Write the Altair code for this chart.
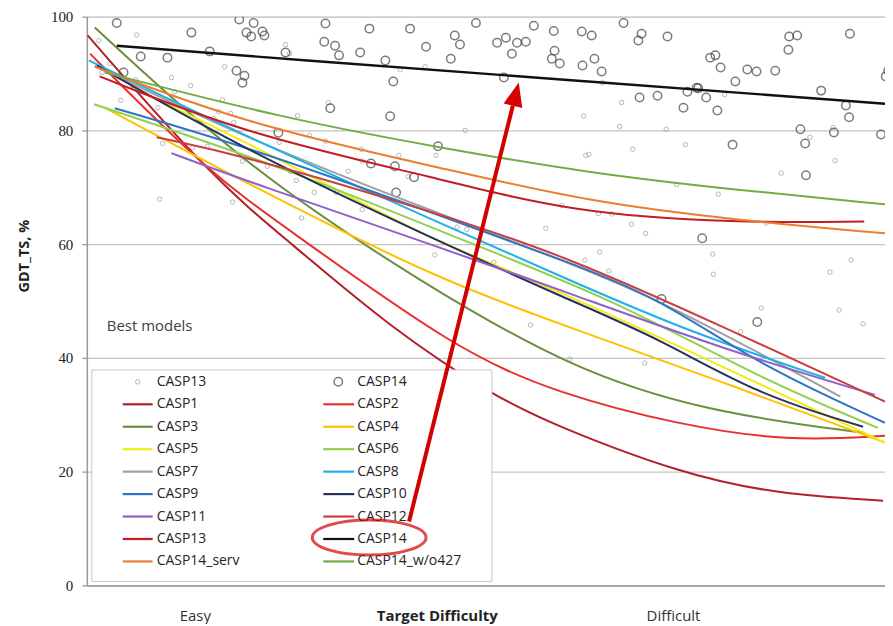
import altair as alt
import pandas as pd

W, H = 800, 570

# ---------------- scatter: best models (difficulty 0..100, GDT_TS %) ----------------
casp14_pts_x = [3.75, 13.1, 19.1, 20.9, 20.0, 20.6, 22.0, 22.25, 6.75, 10.1, 15.4, 24.9, 4.6, 18.75, 19.75,
                19.5, 24.0, 29.9, 35.4, 40.5, 48.75, 56.0, 58.5, 62.0, 29.75, 31.1, 31.6, 34.25, 42.5, 46.1,
                46.75, 45.6, 37.4, 38.4, 51.4, 52.5, 53.9, 55.0, 53.25, 58.6, 58.25, 59.25, 62.1, 52.25, 30.5,
                38.0, 44.0, 35.6, 38.6, 41.0, 38.75, 67.25, 63.25, 69.5, 69.1, 72.75, 63.6, 64.5, 78.1, 78.75,
                79.4, 81.25, 82.75, 83.9, 86.25, 88.0, 89.0, 87.9, 95.6, 100.4, 100.1, 69.25, 71.5, 74.75, 75.25,
                76.4, 76.6, 77.6, 79.0, 92.0, 95.1, 95.5, 89.4, 93.6, 99.5, 80.9, 90.0, 90.1, 77.1, 72.0, 84.0]
casp14_pts_y = [98.9, 97.2, 99.5, 98.9, 97.2, 96.5, 97.4, 96.7, 93.0, 92.8, 93.9, 93.7, 90.2, 90.5, 89.6,
                88.4, 79.6, 98.8, 97.9, 97.9, 98.9, 98.4, 97.5, 97.4, 95.6, 94.9, 93.2, 93.7, 94.7, 96.7,
                95.1, 92.6, 92.3, 88.6, 95.4, 96.3, 95.4, 95.6, 93.5, 94.0, 92.6, 91.75, 91.4, 89.3, 83.9,
                82.5, 77.2, 74.2, 73.7, 71.75, 69.1, 98.9, 96.7, 97.0, 95.8, 96.5, 92.6, 90.35, 92.8, 93.2,
                91.05, 88.6, 90.7, 90.35, 90.5, 96.5, 96.7, 94.2, 97.0, 90.5, 89.5, 85.8, 86.1, 84.0, 86.8,
                87.5, 87.4, 85.8, 83.5, 87.0, 84.4, 82.3, 80.2, 79.65, 79.3, 77.5, 77.7, 72.1, 61.05, 50.35, 46.3]

casp13_pts_x = [1.5, 6.25, 24.9, 17.25, 10.6, 13.0, 6.1, 4.25, 17.0, 16.5, 18.0, 15.9, 18.4, 9.5, 13.25,
                15.1, 24.1, 19.5, 22.6, 25.5, 26.25, 9.1, 18.25, 26.4, 2.9, 8.9, 11.0, 1.9, 25.4, 39.25,
                42.4, 30.25, 27.9, 29.9, 34.4, 34.5, 39.1, 43.75, 32.75, 28.5, 31.25, 40.25, 47.4, 62.25, 62.5,
                59.5, 26.9, 34.5, 46.4, 47.6, 43.6, 51.0, 57.5, 55.6, 60.5, 62.4, 64.1, 65.75, 68.25, 70.0,
                64.25, 78.4, 78.5, 65.4, 85.1, 93.1, 95.75, 84.5, 94.25, 97.25, 81.9, 69.9, 67.0, 66.75, 72.6,
                75.0, 68.4, 79.9, 62.9, 90.6, 93.5, 93.75, 87.0, 79.1, 73.9, 64.6]
casp13_pts_y = [95.8, 96.8, 95.1, 91.2, 89.3, 87.9, 88.9, 85.3, 85.4, 83.3, 83.0, 82.1, 81.4, 77.7, 77.0,
                77.2, 77.9, 74.6, 73.7, 72.8, 71.2, 67.9, 67.4, 82.6, 91.75, 84.0, 86.8, 90.2, 93.5, 90.7,
                91.2, 84.9, 79.1, 78.1, 76.7, 74.6, 75.6, 75.6, 72.8, 69.1, 69.1, 71.9, 80.0, 82.5, 75.6,
                66.8, 64.6, 66.1, 63.0, 62.6, 58.1, 56.8, 62.8, 45.8, 39.8, 57.2, 65.4, 65.3, 63.5, 61.9,
                58.6, 58.25, 54.7, 55.3, 63.7, 55.1, 57.2, 48.8, 48.4, 46.0, 44.6, 39.1, 84.9, 80.7, 80.2,
                77.5, 76.7, 86.3, 75.8, 78.8, 80.5, 74.7, 72.5, 68.8, 70.5, 88.4]

# ---------------- trend curves ----------------
casp1_x = [0.1, 16.0, 25.4, 37.9, 51.25, 59.1, 74.1, 86.6, 99.75]
casp1_y = [96.7, 71.2, 60.4, 45.4, 33.0, 27.9, 19.8, 16.0, 14.9]
casp2_x = [0.4, 15.6, 25.4, 46.25, 59.1, 74.1, 87.9, 100]
casp2_y = [93.5, 72.1, 62.5, 41.4, 33.7, 28.25, 25.3, 26.3]
casp3_x = [1.0, 20.4, 42.0, 60.4, 77.9, 97.5]
casp3_y = [98.1, 73.0, 53.2, 38.2, 30.4, 26.8]
casp4_x = [2.25, 20.4, 44.1, 60.4, 80.0, 100]
casp4_y = [84.0, 70.4, 53.7, 45.4, 35.6, 25.1]
casp5_x = [5.75, 24.75, 41.6, 59.1, 79.1, 100]
casp5_y = [87.5, 74.7, 61.6, 51.9, 38.8, 25.1]
casp6_x = [0.9, 24.75, 45.4, 66.25, 84.1, 99.1]
casp6_y = [84.6, 73.5, 61.6, 50.2, 36.5, 27.7]
casp7_x = [1.0, 20.4, 44.1, 60.4, 71.9, 94.4]
casp7_y = [91.4, 78.25, 65.4, 56.7, 50.2, 33.2]
casp8_x = [0.25, 20.4, 44.1, 60.4, 75.75, 92.5]
casp8_y = [92.3, 78.6, 63.8, 53.7, 44.4, 36.5]
casp9_x = [3.5, 20.4, 44.1, 59.1, 71.6, 84.1, 100]
casp9_y = [83.9, 77.0, 65.1, 57.5, 50.7, 38.8, 28.6]
casp10_x = [1.25, 20.4, 44.1, 60.4, 71.6, 84.1, 97.25]
casp10_y = [91.4, 76.1, 60.5, 50.2, 43.5, 33.5, 27.9]
casp11_x = [10.6, 20.4, 44.1, 60.4, 80.0, 98.75]
casp11_y = [76.0, 70.9, 59.5, 51.4, 41.4, 33.5]
casp12_x = [8.75, 20.4, 44.1, 60.4, 80.0, 100]
casp12_y = [78.8, 75.3, 65.4, 57.7, 45.3, 32.3]
casp13_x = [1.6, 20.4, 44.1, 60.4, 81.6, 97.4]
casp13_y = [89.5, 79.1, 71.6, 65.6, 63.7, 64.0]
casp14_x = [3.75, 25.4, 62.9, 100]
casp14_y = [94.9, 92.5, 88.6, 84.7]
casp14serv_x = [1.0, 20.4, 44.1, 62.9, 81.6, 100]
casp14serv_y = [91.2, 80.9, 73.5, 67.4, 64.2, 61.9]
casp14wo_x = [2.25, 24.75, 44.1, 62.9, 81.6, 100]
casp14wo_y = [90.2, 82.1, 77.0, 72.5, 69.5, 67.0]

series_names = ["CASP1", "CASP2", "CASP3", "CASP4", "CASP5", "CASP6", "CASP7", "CASP8", "CASP9",
                "CASP10", "CASP11", "CASP12", "CASP13", "CASP14", "CASP14_serv", "CASP14_w/o427"]
series_colors = ["#B3202A", "#E8312F", "#6A8F3D", "#FFC000", "#F2EC12", "#92D050", "#A0A0A0", "#1FB1E8",
                 "#2E75C6", "#27315E", "#9060C8", "#C8403F", "#C41E24", "#111111", "#ED7D31", "#70AD47"]

curve_lists = [(casp1_x, casp1_y), (casp2_x, casp2_y), (casp3_x, casp3_y), (casp4_x, casp4_y),
               (casp5_x, casp5_y), (casp6_x, casp6_y), (casp7_x, casp7_y), (casp8_x, casp8_y),
               (casp9_x, casp9_y), (casp10_x, casp10_y), (casp11_x, casp11_y), (casp12_x, casp12_y),
               (casp13_x, casp13_y), (casp14_x, casp14_y), (casp14serv_x, casp14serv_y),
               (casp14wo_x, casp14wo_y)]

rows = []
for name, (xs_, ys_) in zip(series_names, curve_lists):
    for a, b in zip(xs_, ys_):
        rows.append({"series": name, "x": a, "y": b})
lines_df = pd.DataFrame(rows)

df14 = pd.DataFrame({"x": casp14_pts_x, "y": casp14_pts_y})
df13 = pd.DataFrame({"x": casp13_pts_x, "y": casp13_pts_y})

# legend layout (two columns)
legend_left = ["CASP13", "CASP1", "CASP3", "CASP5", "CASP7", "CASP9", "CASP11", "CASP13", "CASP14_serv"]
legend_right = ["CASP14", "CASP2", "CASP4", "CASP6", "CASP8", "CASP10", "CASP12", "CASP14", "CASP14_w/o427"]

leg_rows = []
for i, (l, r) in enumerate(zip(legend_left, legend_right)):
    yy = 366 + 22.5 * i
    leg_rows.append({"label": l, "series": l, "lx1": 36, "lx2": 66, "cx": 51, "tx": 70, "ly": yy,
                     "kind": "pt13" if i == 0 else "line"})
    leg_rows.append({"label": r, "series": r, "lx1": 237, "lx2": 268, "cx": 252, "tx": 271, "ly": yy,
                     "kind": "pt14" if i == 0 else "line"})
leg_df = pd.DataFrame(leg_rows)

xs = alt.Scale(domain=[0, 100])
ys = alt.Scale(domain=[0, 100])
color_scale = alt.Scale(domain=series_names, range=series_colors)

xaxis = alt.Axis(labels=False, ticks=False, grid=False, domain=True, title=None,
                 domainColor="#9a9a9a", domainWidth=1.5)
yaxis = alt.Axis(values=[0, 20, 40, 60, 80, 100], grid=True, title=None, gridColor="#c4c4c4",
                 gridWidth=1.3, domainColor="#9a9a9a", domainWidth=1.5, tickColor="#9a9a9a",
                 tickSize=5, tickWidth=1.3, labelFont="Liberation Serif", labelFontSize=15,
                 labelColor="#222222", labelPadding=9)

X = alt.X("x:Q", scale=xs, axis=xaxis)
Y = alt.Y("y:Q", scale=ys, axis=yaxis)

pts13 = alt.Chart(df13).mark_point(shape="circle", filled=False, size=20, strokeWidth=1,
                                   color="#9a9a9a", clip=True).encode(x=X, y=Y)

pts14 = alt.Chart(df14).mark_point(shape="circle", filled=False, size=72, strokeWidth=1.5,
                                   color="#454545", clip=True).encode(x=X, y=Y)

curves = alt.Chart(lines_df).transform_filter(alt.datum.series != "CASP14").mark_line(
    interpolate="basis", strokeWidth=2, clip=True).encode(
    x=X, y=Y, color=alt.Color("series:N", scale=color_scale, legend=None))

black = alt.Chart(lines_df).transform_filter(alt.datum.series == "CASP14").mark_line(
    interpolate="basis", strokeWidth=2.4, clip=True, color="#111111").encode(x=X, y=Y)

one = pd.DataFrame({"a": [0]})

leg_box = alt.Chart(one).mark_rect(fill="white", stroke="#c8c8c8", strokeWidth=1).encode(
    x=alt.value(5), x2=alt.value(406), y=alt.value(354), y2=alt.value(566))

leg_lines = alt.Chart(leg_df).transform_filter(alt.datum.kind == "line").mark_rule(strokeWidth=2.2).encode(
    x=alt.X("lx1:Q", scale=None), x2="lx2:Q", y=alt.Y("ly:Q", scale=None),
    color=alt.Color("series:N", scale=color_scale, legend=None))

leg_p13 = alt.Chart(leg_df).transform_filter(alt.datum.kind == "pt13").mark_point(
    shape="circle", filled=False, size=20, strokeWidth=1, color="#9a9a9a").encode(
    x=alt.X("cx:Q", scale=None), y=alt.Y("ly:Q", scale=None))

leg_p14 = alt.Chart(leg_df).transform_filter(alt.datum.kind == "pt14").mark_point(
    shape="circle", filled=False, size=72, strokeWidth=1.5, color="#454545").encode(
    x=alt.X("cx:Q", scale=None), y=alt.Y("ly:Q", scale=None))

leg_text = alt.Chart(leg_df).mark_text(align="left", baseline="middle", font="Open Sans",
                                       fontSize=14, color="#262626").encode(
    x=alt.X("tx:Q", scale=None), y=alt.Y("ly:Q", scale=None), text="label:N")

best = alt.Chart(one).mark_text(align="left", baseline="middle", font="Open Sans", fontSize=15,
                                color="#404040").encode(
    x=alt.value(20), y=alt.value(310), text=alt.value("Best models"))

ytitle = alt.Chart(one).mark_text(angle=270, align="center", baseline="middle", font="Open Sans",
                                  fontSize=14.5, fontWeight="bold", color="#222222").encode(
    x=alt.value(-62), y=alt.value(240), text=alt.value("GDT_TS, %"))

xlab_df = pd.DataFrame({"x": [13.6, 43.9, 73.5], "t": ["Easy", "Target Difficulty", "Difficult"],
                        "w": ["normal", "bold", "normal"]})
xlab_n = alt.Chart(xlab_df).transform_filter(alt.datum.w == "normal").mark_text(
    baseline="middle", font="Open Sans", fontSize=15, color="#333333").encode(
    x=X, y=alt.value(601), text="t:N")
xlab_b = alt.Chart(xlab_df).transform_filter(alt.datum.w == "bold").mark_text(
    baseline="middle", font="Open Sans", fontSize=15, fontWeight="bold", color="#222222").encode(
    x=X, y=alt.value(601), text="t:N")

ellipse_path = ("M -1 0 C -1 -0.17 -0.552 -0.307 0 -0.307 C 0.552 -0.307 1 -0.17 1 0 "
                "C 1 0.17 0.552 0.307 0 0.307 C -0.552 0.307 -1 0.17 -1 0 Z")
ellipse = alt.Chart(one).mark_point(shape=ellipse_path, size=12996, filled=False, strokeWidth=3,
                                    color="#D40000").encode(x=alt.value(283), y=alt.value(522))

arrow = alt.Chart(one).mark_rule(strokeWidth=4, color="#D40000").encode(
    x=alt.value(323), y=alt.value(506), x2=alt.value(427), y2=alt.value(89))
head = alt.Chart(one).mark_point(shape="M 0 -1 L 0.8 1 L -0.8 1 Z", size=576, filled=True, angle=14,
                                 color="#D40000", strokeWidth=0, opacity=1).encode(
    x=alt.value(430), y=alt.value(77.6))

chart = alt.layer(pts13, pts14, curves, black, leg_box, leg_lines, leg_p13, leg_p14, leg_text,
                  best, ytitle, xlab_n, xlab_b, ellipse, arrow, head).properties(
    width=W, height=H, autosize="none",
    padding={"left": 79, "top": 8, "right": 0, "bottom": 38}
).configure_view(fill="#F2F2F2", strokeWidth=0).configure(background="white")

chart.save("out.html", embed_options={"renderer": "svg", "actions": False})
